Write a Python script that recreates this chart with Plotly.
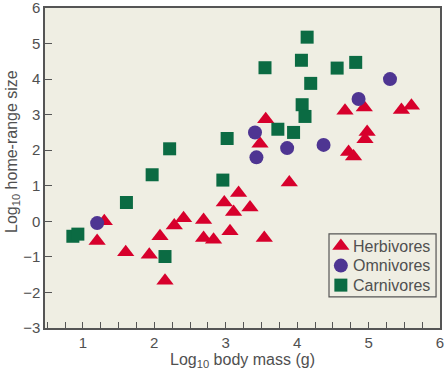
import plotly.graph_objects as go

herb_x = [1.20, 1.30, 1.60, 1.93, 2.08, 2.15, 2.28, 2.41, 2.69, 2.69, 2.83, 2.98, 3.06, 3.11, 3.18, 3.34, 3.54,
          3.48, 3.56, 3.89, 4.67, 4.72, 4.79, 4.95, 4.98, 4.94, 5.46, 5.60]
herb_y = [-0.55, 0.00, -0.87, -0.94, -0.42, -1.67, -0.12, 0.09, 0.04, -0.47, -0.52, 0.53, -0.28, 0.26, 0.80, 0.39, -0.47,
          2.18, 2.87, 1.09, 3.11, 1.95, 1.82, 2.31, 2.51, 3.20, 3.13, 3.25]

omni_x = [1.20, 3.41, 3.43, 3.86, 4.37, 4.86, 5.30]
omni_y = [-0.05, 2.50, 1.80, 2.06, 2.15, 3.44, 4.00]

carn_x = [0.86, 0.93, 1.61, 1.97, 2.15, 2.215, 2.96, 3.02, 3.55, 3.73, 3.95, 4.06, 4.07, 4.11, 4.14, 4.19, 4.56, 4.82]
carn_y = [-0.42, -0.36, 0.53, 1.31, -0.99, 2.04, 1.16, 2.33, 4.32, 2.59, 2.50, 4.53, 3.28, 2.95, 5.18, 3.88, 4.31, 4.47]

series_names = ["Herbivores", "Omnivores", "Carnivores"]
x_tick_vals = [1, 2, 3, 4, 5, 6]
y_tick_vals = [-3, -2, -1, 0, 1, 2, 3, 4, 5, 6]
y_tick_text = ["\u22123", "\u22122", "\u22121", "0", "1", "2", "3", "4", "5", "6"]
x_title = "Log<sub>10</sub> body mass (g)"
y_title = "Log<sub>10</sub> home-range size"

RED = "#d7002c"
PURPLE = "#4e3592"
GREEN = "#0b6b43"
BG = "#efeee3"
TXT = "#505050"
AX = "#555555"
FONT = "Liberation Sans, Arial, sans-serif"

symbols = ["triangle-up", "circle", "square"]
colors = [RED, PURPLE, GREEN]
sizes = [15, 14, 13]
data = [(herb_x, herb_y), (omni_x, omni_y), (carn_x, carn_y)]

fig = go.Figure()
for (xs, ys), nm, sym, col, sz in zip(data, series_names, symbols, colors, sizes):
    fig.add_trace(go.Scatter(x=xs, y=ys, mode="markers", name=nm, showlegend=False,
                             marker=dict(symbol=sym, size=sz, color=col, line=dict(width=0))))

# custom legend (box, symbols on overlay axes, labels)
leg_x0, leg_x1, leg_y0, leg_y1 = 0.719, 0.990, 0.097, 0.294
leg_rows = [0.256, 0.195, 0.134]
leg_sym_x = 0.749
leg_txt_x = 0.775
fig.add_shape(type="rect", xref="paper", yref="paper", x0=leg_x0, x1=leg_x1, y0=leg_y0, y1=leg_y1,
              line=dict(color=AX, width=1.2), fillcolor=BG, layer="below")
for nm, sym, col, sz, ry in zip(series_names, symbols, colors, sizes, leg_rows):
    fig.add_trace(go.Scatter(x=[leg_sym_x], y=[ry], xaxis="x2", yaxis="y2", mode="markers", showlegend=False,
                             hoverinfo="skip",
                             marker=dict(symbol=sym, size=sz, color=col, line=dict(width=0))))
    fig.add_annotation(x=leg_txt_x, y=ry, xref="paper", yref="paper", text=nm, showarrow=False,
                       xanchor="left", yanchor="middle", font=dict(size=16, color=TXT, family=FONT))

# y-axis title (placed as in the reference, slightly above centre)
fig.add_annotation(x=-0.0835, y=0.55, xref="paper", yref="paper", text=y_title, showarrow=False,
                   textangle=-90, xanchor="center", yanchor="middle",
                   font=dict(size=16, color=TXT, family=FONT))

fig.update_layout(
    width=446, height=377,
    margin=dict(l=45, r=6, t=8, b=49),
    paper_bgcolor="white", plot_bgcolor=BG,
    font=dict(family=FONT, size=16, color=TXT),
    showlegend=False,
    xaxis=dict(range=[0.47, 6.0], tickmode="array", tickvals=x_tick_vals,
               ticks="inside", ticklen=6, tickcolor=AX, tickwidth=1, automargin=False,
               ticklabeloverflow="allow",
               minor=dict(dtick=0.25, tick0=0, ticks="inside", ticklen=6, tickcolor=AX, showgrid=False),
               showgrid=False, zeroline=False, showline=True, linecolor=AX, linewidth=1.5, mirror=True,
               title=dict(text=x_title, standoff=4, font=dict(size=16, color=TXT)),
               tickfont=dict(size=15, color=TXT)),
    yaxis=dict(range=[-3.0, 6.0], tickmode="array", tickvals=y_tick_vals, ticktext=y_tick_text,
               ticks="inside", ticklen=7, tickcolor=AX, tickwidth=1, automargin=False,
               ticklabeloverflow="allow",
               showgrid=False, zeroline=False, showline=True, linecolor=AX, linewidth=1.5, mirror=True,
               tickfont=dict(size=15, color=TXT)),
    xaxis2=dict(overlaying="x", range=[0, 1], visible=False, fixedrange=True),
    yaxis2=dict(overlaying="y", range=[0, 1], visible=False, fixedrange=True),
)

fig.write_html("out.html", config={"displayModeBar": False},
               post_script="document.body.style.margin='0';document.body.style.overflow='hidden';")
